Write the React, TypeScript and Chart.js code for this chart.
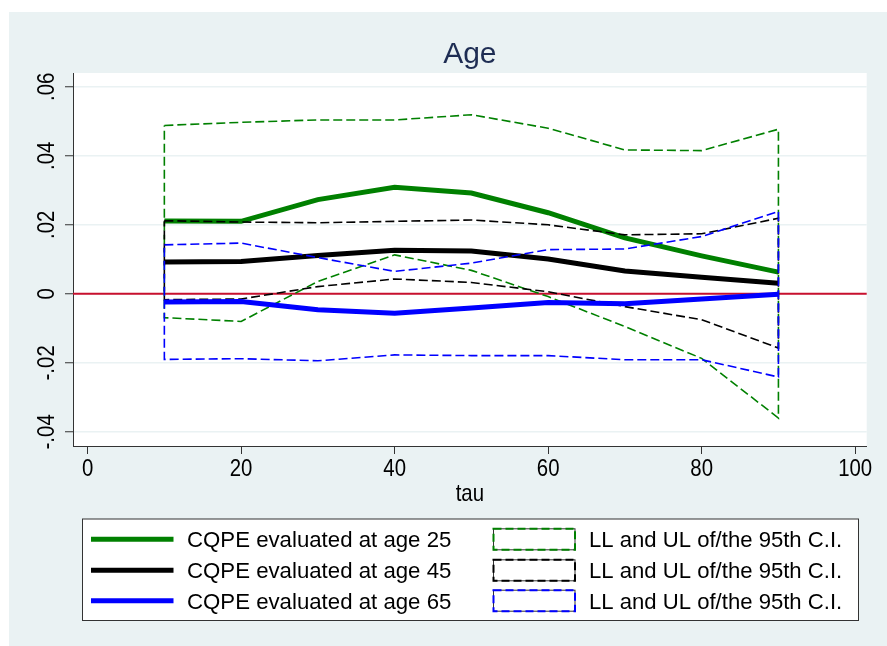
import React, { useEffect, useRef } from "react";
import { Chart, registerables } from "chart.js";

Chart.register(...registerables);

// Quantile levels (tau) at which the conditional quantile partial effects are evaluated
const tau = [10, 20, 30, 40, 50, 60, 70, 80, 90];

// CQPE point estimates by age
const cqpe25 = [0.0211, 0.021, 0.0273, 0.0309, 0.0292, 0.0235, 0.0162, 0.011, 0.0063];
const cqpe45 = [0.0092, 0.0094, 0.0111, 0.0126, 0.0124, 0.0101, 0.0066, 0.0048, 0.0031];
const cqpe65 = [-0.0024, -0.0022, -0.0046, -0.0056, -0.0041, -0.0025, -0.0029, -0.0015, -0.0001];

// Upper and lower limits of the 95% confidence intervals
const ul25 = [0.0488, 0.0497, 0.0504, 0.0504, 0.0519, 0.048, 0.0417, 0.0415, 0.0477];
const ll25 = [-0.0069, -0.008, 0.0036, 0.0113, 0.0068, -0.0008, -0.0095, -0.0187, -0.036];
const ul45 = [0.0212, 0.0208, 0.0206, 0.021, 0.0214, 0.02, 0.0171, 0.0174, 0.0219];
const ll45 = [-0.0017, -0.0015, 0.0021, 0.0043, 0.0033, 0.0006, -0.0037, -0.0075, -0.0157];
const ul65 = [0.0142, 0.0147, 0.0105, 0.0065, 0.0089, 0.0128, 0.013, 0.0166, 0.0239];
const ll65 = [-0.019, -0.0188, -0.0194, -0.0177, -0.0179, -0.0179, -0.0191, -0.0191, -0.0241];

// Axis ticks and labels
const xTicks = [0, 20, 40, 60, 80, 100];
const yTicks = [-0.04, -0.02, 0, 0.02, 0.04, 0.06];
const yTickLabels = ["-.04", "-.02", "0", ".02", ".04", ".06"];
const xRange = [-1.9, 101.5];
const yRange = [-0.0441, 0.064];
const refLine = 0;

const titleText = "Age";
const xTitle = "tau";
const lineLabels = ["CQPE evaluated at age 25", "CQPE evaluated at age 45", "CQPE evaluated at age 65"];
const ciLabel = "LL and UL of/the 95th C.I.";

const GREEN = "#008000";
const BLACK = "#000000";
const BLUE = "#0000ff";
const BG = "#eaf2f3";
const AXIS = "#333333";
const FONT = "'Liberation Sans', Arial, Helvetica, sans-serif";

const W = 878;
const H = 634;

const toPoints = (ys: number[]) => ys.map((y, i) => ({ x: tau[i], y }));

// closed outline: upper limit left->right, lower limit right->left, back to start
const bandOutline = (ul: number[], ll: number[]) => {
  const up = toPoints(ul);
  const lo = toPoints(ll).reverse();
  return [...up, ...lo, up[0]];
};

function drawText(
  ctx: CanvasRenderingContext2D,
  text: string,
  x: number,
  y: number,
  size: number,
  color: string,
  align: CanvasTextAlign,
  sx = 1,
  rotate = 0
) {
  ctx.save();
  ctx.translate(x, y);
  if (rotate) ctx.rotate(rotate);
  ctx.scale(sx, 1);
  ctx.font = `${size}px ${FONT}`;
  ctx.fillStyle = color;
  ctx.textAlign = align;
  ctx.textBaseline = "alphabetic";
  ctx.fillText(text, 0, size * 0.358);
  ctx.restore();
}

const decorPlugin = {
  id: "decor",
  beforeDraw(chart: any) {
    const { ctx, chartArea } = chart;
    ctx.save();
    ctx.fillStyle = BG;
    ctx.fillRect(0, 0, chart.width, chart.height);
    ctx.fillStyle = "#ffffff";
    ctx.fillRect(chartArea.left, chartArea.top, chartArea.right - chartArea.left, chartArea.bottom - chartArea.top);
    ctx.restore();
  },
  beforeDatasetsDraw(chart: any) {
    const { ctx, chartArea, scales } = chart;
    const y0 = scales.y.getPixelForValue(refLine);
    ctx.save();
    ctx.strokeStyle = "#c8102e";
    ctx.lineWidth = 2;
    ctx.beginPath();
    ctx.moveTo(chartArea.left, y0);
    ctx.lineTo(chartArea.right, y0);
    ctx.stroke();
    ctx.restore();
  },
  afterDraw(chart: any) {
    const { ctx, chartArea, scales } = chart;
    const tickSize = 24;
    const tickSx = 0.85;
    const cx = (chartArea.left + chartArea.right) / 2;

    drawText(ctx, titleText, cx, 40, 30, "#1e2d53", "center", 1.0);

    yTicks.forEach((v, i) => {
      drawText(ctx, yTickLabels[i], 36, scales.y.getPixelForValue(v), tickSize, "#000", "center", tickSx, -Math.PI / 2);
    });
    xTicks.forEach((v) => {
      drawText(ctx, String(v), scales.x.getPixelForValue(v), 455, tickSize, "#000", "center", tickSx);
    });
    drawText(ctx, xTitle, cx, 480, tickSize, "#000", "center", tickSx);

    // legend
    const bx = 73.5, by = 507, bw = 776, bh = 101.5;
    ctx.save();
    ctx.fillStyle = "#ffffff";
    ctx.fillRect(bx, by, bw, bh);
    ctx.strokeStyle = AXIS;
    ctx.lineWidth = 1;
    ctx.strokeRect(bx, by, bw, bh);
    ctx.restore();

    const rows = [527.3, 558.3, 588.7];
    const colors = [GREEN, BLACK, BLUE];
    rows.forEach((ry, i) => {
      ctx.save();
      ctx.strokeStyle = colors[i];
      ctx.lineWidth = 5;
      ctx.beginPath();
      ctx.moveTo(82, ry);
      ctx.lineTo(164.5, ry);
      ctx.stroke();
      ctx.restore();
      drawText(ctx, lineLabels[i], 178, ry, 22, "#000", "left", 1.01);

      const px = 484.5, pw = 81.5, ph = 21;
      ctx.save();
      ctx.fillStyle = "#ffffff";
      ctx.fillRect(px, ry - ph / 2, pw, ph);
      ctx.strokeStyle = AXIS;
      ctx.lineWidth = 1;
      ctx.strokeRect(px, ry - ph / 2, pw, ph);
      ctx.strokeStyle = colors[i];
      ctx.lineWidth = 2;
      ctx.setLineDash([8, 4]);
      ctx.strokeRect(px, ry - ph / 2, pw, ph);
      ctx.restore();
      drawText(ctx, ciLabel, 580, ry, 22, "#000", "left", 1.005);
    });
  },
};

export default function App() {
  const ref = useRef<HTMLCanvasElement | null>(null);

  useEffect(() => {
    if (!ref.current) return;
    const thick = (label: string, data: number[], color: string, order: number) => ({
      label,
      data: toPoints(data),
      showLine: true,
      borderColor: color,
      backgroundColor: color,
      borderWidth: 5,
      pointRadius: 0,
      tension: 0,
      fill: false,
      order,
    });
    const band = (label: string, ul: number[], ll: number[], color: string, order: number) => ({
      label,
      data: bandOutline(ul, ll),
      showLine: true,
      borderColor: color,
      backgroundColor: color,
      borderWidth: 1.6,
      borderDash: [9, 4],
      pointRadius: 0,
      tension: 0,
      fill: false,
      order,
    });

    const chart = new Chart(ref.current, {
      type: "scatter",
      data: {
        datasets: [
          thick(lineLabels[0], cqpe25, GREEN, 5),
          band(ciLabel, ul25, ll25, GREEN, 4),
          thick(lineLabels[1], cqpe45, BLACK, 3),
          band(ciLabel, ul45, ll45, BLACK, 2),
          thick(lineLabels[2], cqpe65, BLUE, 1),
          band(ciLabel, ul65, ll65, BLUE, 0),
        ] as any,
      },
      options: {
        animation: false,
        responsive: false,
        events: [],
        layout: { padding: { left: 0, top: 61, right: 20.3, bottom: 0 } },
        plugins: { legend: { display: false }, tooltip: { enabled: false }, title: { display: false } },
        scales: {
          x: {
            type: "linear",
            min: xRange[0],
            max: xRange[1],
            afterBuildTicks: (s: any) => {
              s.ticks = xTicks.map((v) => ({ value: v }));
            },
            afterFit: (s: any) => {
              s.height = 200;
            },
            ticks: { display: false },
            grid: { drawOnChartArea: false, drawTicks: true, tickLength: 8, tickColor: AXIS, tickWidth: 1 },
            border: { display: true, color: AXIS, width: 1 },
          },
          y: {
            type: "linear",
            min: yRange[0],
            max: yRange[1],
            afterBuildTicks: (s: any) => {
              s.ticks = yTicks.map((v) => ({ value: v }));
            },
            afterFit: (s: any) => {
              s.width = 64;
            },
            ticks: { display: false },
            grid: { color: BG, lineWidth: 1.5, drawTicks: true, tickLength: 8, tickColor: AXIS, tickWidth: 1 },
            border: { display: true, color: AXIS, width: 1 },
          },
        },
      },
      plugins: [decorPlugin],
    });
    return () => chart.destroy();
  }, []);

  return (
    <div style={{ position: "absolute", left: 9, top: 12, width: W, height: H }}>
      <canvas ref={ref} width={W} height={H} style={{ display: "block", width: W, height: H }} />
    </div>
  );
}
